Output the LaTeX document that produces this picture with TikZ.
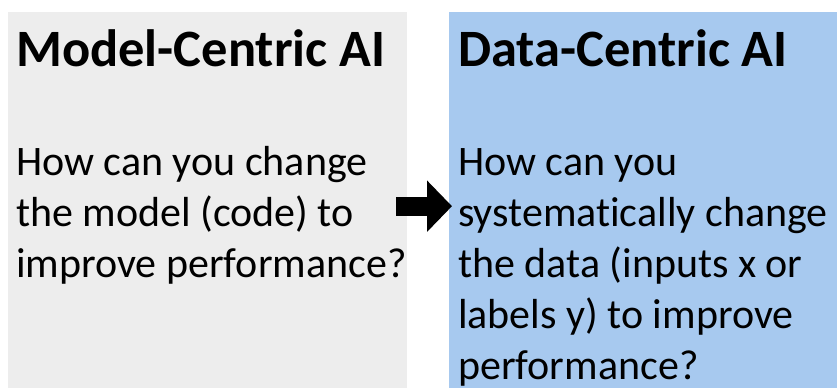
\documentclass[tikz,border=0pt]{standalone}
\usepackage{fontspec}
\setmainfont{Carlito}[Ligatures=NoCommon]
\usepackage{tikz}
\usetikzlibrary{arrows.meta, positioning, calc}
\definecolor{mcgray}{HTML}{EDEDED}
\definecolor{dcblue}{HTML}{A7C9EF}
\begin{document}
\begin{tikzpicture}[
    x=1pt, y=1pt,
    panel/.style={rectangle, draw=none, inner sep=0pt, anchor=north west, minimum height=376pt},
    heading/.style={anchor=base west, inner sep=0pt, font=\fontsize{52.5}{60}\selectfont\bfseries},
    question/.style={anchor=base west, inner sep=0pt, text width=420pt, align=flush left, font=\fontsize{42}{51}\selectfont},
    movearrow/.style={draw=black, line width=19pt, -{Triangle[length=25pt, width=50pt]}}
]
\useasboundingbox (0,0) rectangle (837,388);

\node[panel, fill=mcgray, minimum width=399pt] (model) at (8,376) {};
\node[panel, fill=dcblue, minimum width=388pt] (data) at (449,376) {};

\node[heading] (mtitle) at ($(model.north west)+(8,-55)$) {Model-Centric AI};
\node[heading] (dtitle) at ($(data.north west)+(9,-55)$) {Data-Centric AI};

\node[question] (mq) at ($(model.north west)+(8,-164)$) {How can you change\\the model (code) to\\improve performance?};
\node[question] (dq) at ($(data.north west)+(9,-164)$) {How can you\\systematically change\\the data (inputs x or\\labels y) to improve\\performance?};

\draw[movearrow] ($(model.east)+(-11,-6)$) -- ($(data.west)+(3,-6)$);
\end{tikzpicture}
\end{document}
